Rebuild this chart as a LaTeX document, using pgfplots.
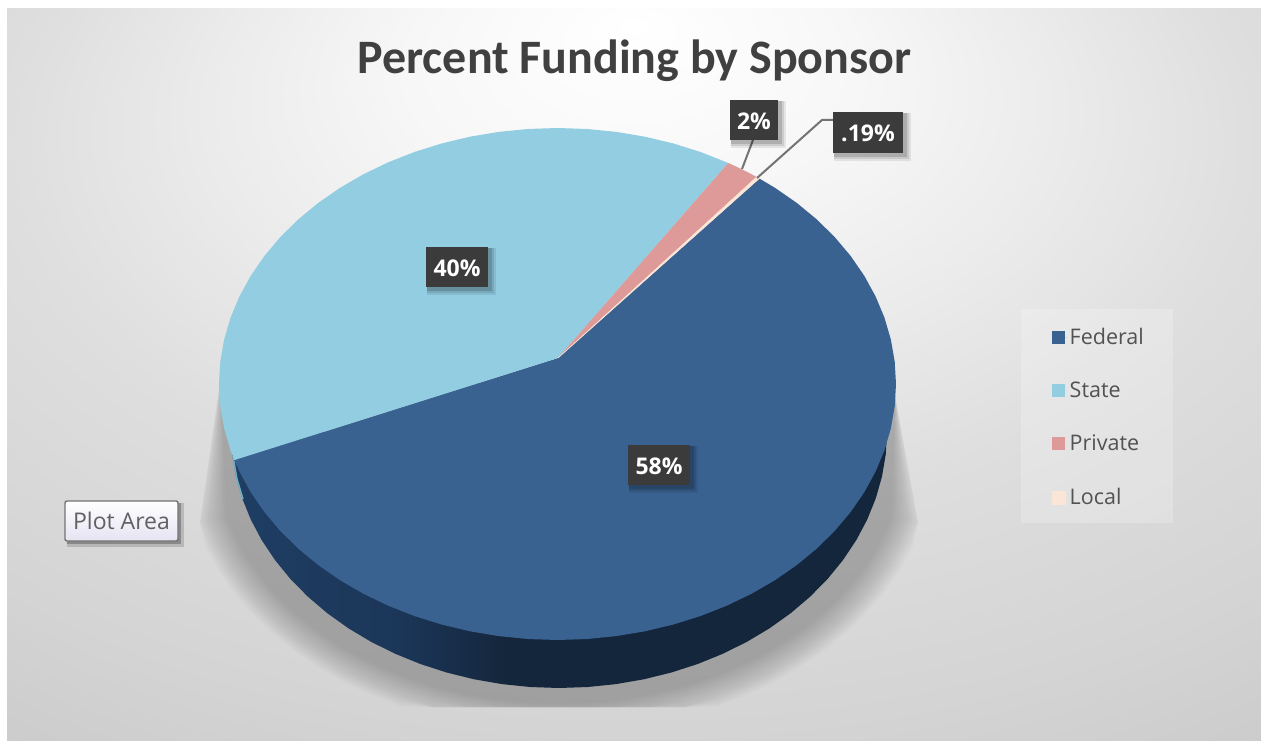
\documentclass[border=0pt]{standalone}
\usepackage{fontspec}
\usepackage{pgfplots}
\usepackage{pgfplotstable}
\pgfplotsset{compat=1.18}
\setmainfont{Open Sans}
\newfontfamily\titlefont{Carlito}
\definecolor{cFed}{HTML}{3A6291}
\definecolor{cSta}{HTML}{93CDE2}
\definecolor{cPri}{HTML}{DE9A98}
\definecolor{cLoc}{HTML}{FBE5D6}
\definecolor{cBox}{HTML}{3B3B3B}
\definecolor{sA}{HTML}{1F3E64}
\definecolor{sB}{HTML}{1B3658}
\definecolor{sC}{HTML}{14263B}
\definecolor{cTeal}{HTML}{6FB0C8}
\definecolor{cTip}{HTML}{E6E3F3}
\definecolor{b1}{HTML}{F7F7F7}
\definecolor{b2}{HTML}{EBEBEB}
\definecolor{b3}{HTML}{DEDEDE}
\definecolor{b4}{HTML}{D4D4D4}
\definecolor{b5}{HTML}{C8C8C8}
\pgfdeclareradialshading{bgshade}{\pgfpoint{0bp}{24bp}}{
 color(0bp)=(white); color(9bp)=(b1); color(17bp)=(b2);
 color(25bp)=(b3); color(36bp)=(b4); color(46bp)=(b5); color(70bp)=(b5)}
\pgfdeclarehorizontalshading{sideshadeb}{100bp}{
 color(0bp)=(sA); color(25bp)=(sA); color(38bp)=(sB); color(46bp)=(sC); color(100bp)=(sC)}
% Pie slices: t = boundary angles on the rim, r = 0 at the apex.
\pgfplotstableread[row sep=\\]{t r\\ 0 0\\ 197.3 1\\ 200 1\\ 205 1\\ 210 1\\ 215 1\\ 220 1\\ 225 1\\ 230 1\\ 235 1\\ 240 1\\ 245 1\\ 250 1\\ 255 1\\ 260 1\\ 265 1\\ 270 1\\ 275 1\\ 280 1\\ 285 1\\ 290 1\\ 295 1\\ 300 1\\ 305 1\\ 310 1\\ 315 1\\ 320 1\\ 325 1\\ 330 1\\ 335 1\\ 340 1\\ 345 1\\ 350 1\\ 355 1\\ 360 1\\ 365 1\\ 370 1\\ 375 1\\ 380 1\\ 385 1\\ 390 1\\ 395 1\\ 400 1\\ 405 1\\ 410 1\\ 413.4 1\\}\tFed
\pgfplotstableread[row sep=\\]{t r\\ 0 0\\ 59.7 1\\ 65 1\\ 70 1\\ 75 1\\ 80 1\\ 85 1\\ 90 1\\ 95 1\\ 100 1\\ 105 1\\ 110 1\\ 115 1\\ 120 1\\ 125 1\\ 130 1\\ 135 1\\ 140 1\\ 145 1\\ 150 1\\ 155 1\\ 160 1\\ 165 1\\ 170 1\\ 175 1\\ 180 1\\ 185 1\\ 190 1\\ 195 1\\ 197.3 1\\}\tSta
\pgfplotstableread[row sep=\\]{t r\\ 0 0\\ 54.0 1\\ 56 1\\ 58 1\\ 59.7 1\\}\tPri
\pgfplotstableread[row sep=\\]{t r\\ 0 0\\ 53.4 1\\ 54.0 1\\}\tLoc
\pgfplotstableread[row sep=\\]{t r\\ 180 1\\ 185 1\\ 190 1\\ 195 1\\ 200 1\\ 205 1\\ 210 1\\ 215 1\\ 220 1\\ 225 1\\ 230 1\\ 235 1\\ 240 1\\ 245 1\\ 250 1\\ 255 1\\ 260 1\\ 265 1\\ 270 1\\ 275 1\\ 280 1\\ 285 1\\ 290 1\\ 295 1\\ 300 1\\ 305 1\\ 310 1\\ 315 1\\ 320 1\\ 325 1\\ 330 1\\ 335 1\\ 340 1\\ 345 1\\ 350 1\\ 355 1\\ 360 1\\}\tSide
\pgfplotstableread[row sep=\\]{t r px py\\ 0 0 221 375\\ 195 1 0 0\\ 200 1 0 0\\ 205 1 0 0\\ 210 1 0 0\\ 215 1 0 0\\ 220 1 0 0\\ 225 1 0 0\\ 230 1 0 0\\ 235 1 0 0\\ 240 1 0 0\\ 245 1 0 0\\ 250 1 0 0\\ 255 1 0 0\\ 260 1 0 0\\ 265 1 0 0\\ 270 1 0 0\\ 275 1 0 0\\ 280 1 0 0\\ 285 1 0 0\\ 290 1 0 0\\ 295 1 0 0\\ 300 1 0 0\\ 305 1 0 0\\ 310 1 0 0\\ 315 1 0 0\\ 320 1 0 0\\ 325 1 0 0\\ 330 1 0 0\\ 335 1 0 0\\ 340 1 0 0\\ 345 1 0 0\\ 0 0 895 395\\}\tShadow
\pgfplotsset{
 slice/.style={no marks,draw=none,line width=0pt},
}
\newcommand{\lab}[5]{% x0 y0 x1 y1 text
 \fill[black,opacity=.08] (axis cs:#1+1,#2+1) rectangle (axis cs:#3+8,#4+8);
 \fill[black,opacity=.10] (axis cs:#1+1,#2+1) rectangle (axis cs:#3+6,#4+6);
 \fill[black,opacity=.14] (axis cs:#1+1,#2+1) rectangle (axis cs:#3+4,#4+4);
 \fill[cBox] (axis cs:#1,#2) rectangle (axis cs:#3,#4);
 \node[text=white,font=\fontsize{23}{27}\selectfont\bfseries] at (axis cs:{(#1+#3)/2},{(#2+#4)/2+1}) {#5};
}
\begin{document}
\begin{tikzpicture}
\begin{axis}[
 scale only axis,width=1261pt,height=741pt,
 xmin=0,xmax=1261,ymin=0,ymax=741,y dir=reverse,
 hide axis,clip=false,
 legend style={at={(axis cs:1052,326)},anchor=north west,draw=none,fill=none,
   font=\fontsize{21.5}{26}\selectfont\color{black!68},row sep=32pt,
   /tikz/every even column/.append style={column sep=0pt},inner sep=0pt},
 legend cell align=left,
 legend image code/.code={\path (0pt,0pt) -- (15pt,0pt);\fill[#1] (0pt,-6.5pt) rectangle (13pt,6.5pt);},
]
\fill[white] (axis cs:0,0) rectangle (axis cs:1261,741);
\shade[shading=bgshade] (axis cs:7,9) rectangle (axis cs:1261,741);
% shadow
\pgfplotsinvokeforeach{0,...,15}{
\addplot[no marks,draw=none,fill=black,fill opacity=0.017,forget plot] table[
  x expr={min(918,max(200,\thisrow{r}*(559+(345+#1*2.1)*cos(\thisrow{t}))+(1-\thisrow{r})*\thisrow{px}))},
  y expr={min(707,\thisrow{r}*(450-(254+#1*1.9)*sin(\thisrow{t}))+(1-\thisrow{r})*\thisrow{py})}] {\tShadow};
}
% side of the pie
\addplot[no marks,draw=none,shade,shading=sideshadeb,forget plot] table[
  x expr={559+328*cos(\thisrow{t})},y expr={432-256*sin(\thisrow{t})}] {\tSide};
\addplot[no marks,draw=cTeal,line width=1.4pt,forget plot] coordinates {(233,456)(237,479)(243,499)};
% top face
\addplot[slice,fill=cFed] table[
  x expr={\thisrow{r}*(557.5+338.5*cos(\thisrow{t}))+(1-\thisrow{r})*558},
  y expr={\thisrow{r}*(384-256*sin(\thisrow{t}))+(1-\thisrow{r})*358}] {\tFed};
\addplot[slice,fill=cSta] table[
  x expr={\thisrow{r}*(557.5+338.5*cos(\thisrow{t}))+(1-\thisrow{r})*558},
  y expr={\thisrow{r}*(384-256*sin(\thisrow{t}))+(1-\thisrow{r})*358}] {\tSta};
\addplot[slice,fill=cPri] table[
  x expr={\thisrow{r}*(557.5+338.5*cos(\thisrow{t}))+(1-\thisrow{r})*558},
  y expr={\thisrow{r}*(384-256*sin(\thisrow{t}))+(1-\thisrow{r})*358}] {\tPri};
\addplot[slice,fill=cLoc,draw=cLoc,line width=0.5pt] table[
  x expr={\thisrow{r}*(557.5+338.5*cos(\thisrow{t}))+(1-\thisrow{r})*558},
  y expr={\thisrow{r}*(384-256*sin(\thisrow{t}))+(1-\thisrow{r})*358}] {\tLoc};
\legend{Federal,State,Private,Local}
% legend panel
\fill[white,opacity=.22] (axis cs:1021,309) rectangle (axis cs:1173,523);
% leader lines
\draw[black!55,line width=2pt] (axis cs:753,140) -- (axis cs:742,169);
\draw[black!55,line width=2pt] (axis cs:835,120) -- (axis cs:822,120) -- (axis cs:757,178);
\lab{730}{100}{778}{140}{2\%}
\lab{833}{112}{903}{153}{.19\%}
\lab{426}{247}{488}{287}{40\%}
\lab{628}{445}{690}{485}{58\%}
% title
\node[text=black!75,font=\titlefont\fontsize{48}{56}\selectfont\bfseries] at (axis cs:634.5,61) {Percent Funding by Sponsor};
% plot area tooltip
\fill[black,opacity=.15] (axis cs:67,503) rectangle (axis cs:184,547);
\fill[black,opacity=.25] (axis cs:67,503) rectangle (axis cs:181,544);
\shade[top color=white,bottom color=cTip,draw=black!55,line width=1.4pt,rounded corners=2pt] (axis cs:65,501) rectangle (axis cs:178,541);
\node[text=black!62,font=\fontsize{23}{27}\selectfont] at (axis cs:121.5,521) {Plot Area};
\end{axis}
\end{tikzpicture}
\end{document}
